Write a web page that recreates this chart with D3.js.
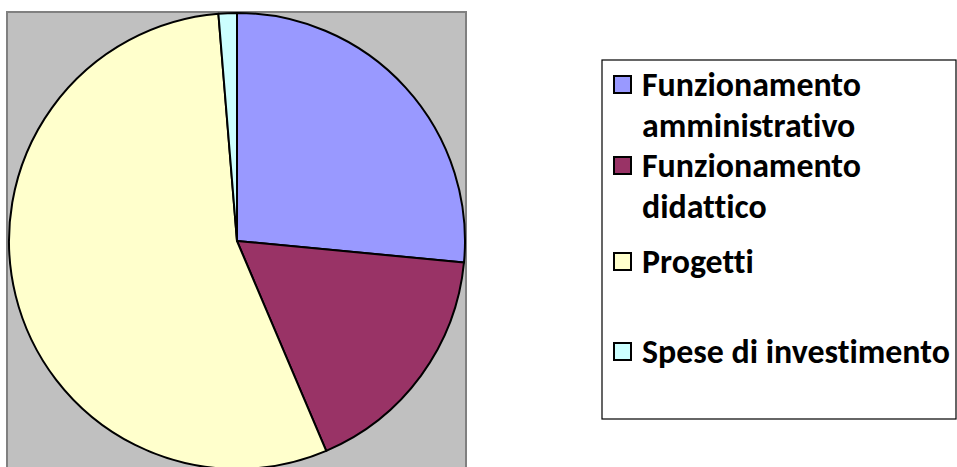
<!DOCTYPE html>
<html>
<head>
<meta charset="utf-8">
<script src="https://cdn.jsdelivr.net/npm/d3@7"></script>
<style>
  body { margin: 0; background: #fff; }
  svg { display: block; }
</style>
</head>
<body>
<div id="chart"></div>
<script>
// dati (quote in %)
const categories = [
  "Funzionamento amministrativo",
  "Funzionamento didattico",
  "Progetti",
  "Spese di investimento",
];
const values = [26.5, 17.1, 55.1, 1.3];
const colors = ["#9999FF", "#993366", "#FFFFCC", "#CCFFFF"];

const width = 957;
const height = 467;

const svg = d3
  .select("#chart")
  .append("svg")
  .attr("width", width)
  .attr("height", height);

// area del grafico (sfondo grigio)
const plot = { x: 7, y: 12, w: 459, h: 470 };
svg
  .append("rect")
  .attr("x", plot.x)
  .attr("y", plot.y)
  .attr("width", plot.w)
  .attr("height", plot.h)
  .attr("fill", "#C0C0C0")
  .attr("stroke", "#808080")
  .attr("stroke-width", 2);

const cx = 237;
const cy = 241;
const radius = 228;

const pie = d3.pie().sort(null).value((d) => d.value);
const arc = d3.arc().innerRadius(0).outerRadius(radius);

const data = categories.map((c, i) => ({ name: c, value: values[i], color: colors[i] }));

svg
  .append("g")
  .attr("transform", `translate(${cx},${cy})`)
  .selectAll("path")
  .data(pie(data))
  .join("path")
  .attr("d", arc)
  .attr("fill", (d) => d.data.color)
  .attr("stroke", "#000")
  .attr("stroke-width", 2)
  .attr("stroke-linejoin", "round");

// legenda
svg
  .append("rect")
  .attr("x", 602)
  .attr("y", 60)
  .attr("width", 354)
  .attr("height", 359)
  .attr("fill", "#fff")
  .attr("stroke", "#000")
  .attr("stroke-width", 1.2);

const fontFamily = "Carlito, Calibri, Lato, 'Open Sans', sans-serif";

// misura per adattare la dimensione del carattere alla larghezza originale
const probe = svg
  .append("text")
  .style("font-family", fontFamily)
  .style("font-weight", "bold")
  .style("font-size", "30px")
  .style("font-variant-ligatures", "none")
  .text("Spese di investimento");
const fontSize = (30 * 308) / probe.node().getComputedTextLength();
probe.remove();

// righe: va a capo dopo "Funzionamento"
const wrap = (label) => {
  const parts = label.split(" ");
  return parts[0] === "Funzionamento" ? [parts[0], parts.slice(1).join(" ")] : [label];
};

const baselines = [96, 177, 273, 363];
const lineStep = 40.5;

const legend = svg.append("g").attr("class", "legend");

const item = legend
  .selectAll("g")
  .data(data)
  .join("g")
  .attr("transform", (d, i) => `translate(0, ${baselines[i]})`);

item
  .append("rect")
  .attr("x", 614)
  .attr("y", -20)
  .attr("width", 17)
  .attr("height", 17)
  .attr("fill", (d) => d.color)
  .attr("stroke", "#000")
  .attr("stroke-width", 2);

item
  .append("text")
  .attr("x", 642)
  .style("font-family", fontFamily)
  .style("font-weight", "bold")
  .style("font-size", fontSize + "px")
  .style("font-variant-ligatures", "none")
  .style("fill", "#000")
  .selectAll("tspan")
  .data((d) => wrap(d.name))
  .join("tspan")
  .attr("x", 642)
  .attr("y", (d, i) => i * lineStep)
  .text((d) => d);
</script>
</body>
</html>
